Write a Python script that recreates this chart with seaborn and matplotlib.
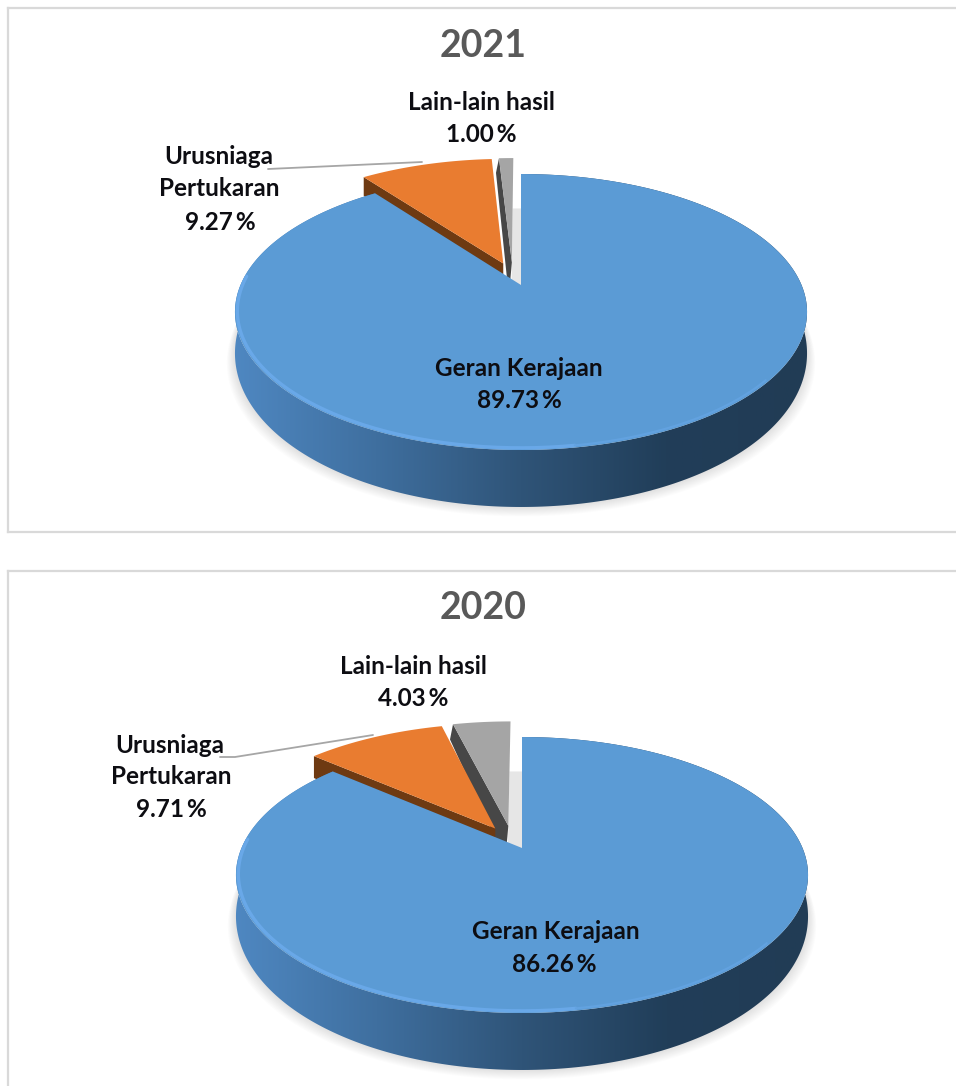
import numpy as np
import matplotlib
matplotlib.use("Agg")
import matplotlib.pyplot as plt
from matplotlib.colors import LinearSegmentedColormap
from matplotlib.patches import Polygon
import seaborn as sns

# ---- data ----
years = ["2021", "2020"]
categories = ["Geran Kerajaan", "Urusniaga\nPertukaran", "Lain-lain hasil"]
values_2021 = [89.73, 9.27, 1.00]
values_2020 = [86.26, 9.71, 4.03]

# ---- style ----
top_colors = ["#5b9bd5", "#e97c30", "#a5a5a5"]
wall_colors = [None, "#6e3a12", "#474747"]
wall_gradient = ["#4f88c2", "#3f6f9f", "#2f5478", "#213e59", "#213c55"]
FW, FH = 956, 1086
W_TXT = "#0d0d12"

sns.set_theme(style="white")
plt.rcParams["font.family"] = ["Lato", "DejaVu Sans"]

# perspective model of the disk (pixels)
B, A, C = 0.1957, 132.7, 280.5
EXPLODE = 0.18
ORANGE_SKEW = np.radians(-1)
GREY_SKEW = np.radians(-9)
GREY_WALL_LEAN = 3


def project(x, y):
    w = 1 + B * y
    return C * x / w, -A * y / w


def depth(y):
    return 37.5 - 19.5 * y


def sector(a0, a1, ox=0.0, oy=0.0):
    th = np.linspace(a0, a1, max(int(abs(a1 - a0) * 80), 4))
    return ox + np.sin(th), oy + np.cos(th)


def poly(ax, xs, ys, color, z, **kw):
    p = Polygon(np.column_stack([xs, ys]), closed=True, facecolor=color, edgecolor="none", zorder=z, **kw)
    ax.add_patch(p)
    return p


def draw_pie(ax, vals):
    fracs = np.array(vals) / 100 * 2 * np.pi
    b_end = fracs[0]
    o_start, o_end = b_end, b_end + fracs[1]
    g_start, g_end = o_end, 2 * np.pi

    # ground shadow
    x, y = sector(np.pi / 2 - 0.1, 3 * np.pi / 2 + 0.1)
    u, v = project(x, y)
    for k in range(1, 11):
        poly(ax, u * (1 + k / 350), v + depth(y) + k * 0.95, "#3a2a10", 1, alpha=0.011)

    # grey slice
    mid = (g_start + g_end) / 2 + GREY_SKEW
    ox, oy = EXPLODE * np.sin(mid), EXPLODE * np.cos(mid)
    # light shadow strip beside the grey slice
    sx = np.array([0, 0, ox, ox])
    sy = np.array([0, 0.65, 0.65, 0])
    su, sv = project(sx, sy)
    poly(ax, su, sv, "#e6e6e6", 2)
    x, y = sector(g_start, g_end, ox, oy)
    wx = np.array([ox, x[0], x[0], ox])
    wy = np.array([oy, y[0], y[0], oy])
    wu, wv = project(wx, wy)
    wv = wv + np.array([0, 0, depth(y[0]), depth(oy)])
    wu = wu - np.array([0, 0, GREY_WALL_LEAN, GREY_WALL_LEAN])
    poly(ax, wu, wv, wall_colors[2], 3)
    u, v = project(np.r_[ox, x], np.r_[oy, y])
    poly(ax, u, v, top_colors[2], 4)

    # orange slice
    mid = (o_start + o_end) / 2 + ORANGE_SKEW
    ox, oy = EXPLODE * np.sin(mid), EXPLODE * np.cos(mid)
    x, y = sector(o_start, o_end, ox, oy)
    wx = np.array([ox, x[0], x[0], ox])
    wy = np.array([oy, y[0], y[0], oy])
    wu, wv = project(wx, wy)
    wv = wv + np.array([0, 0, depth(y[0]), depth(oy)])
    poly(ax, wu, wv, wall_colors[1], 5)
    u, v = project(np.r_[ox, x], np.r_[oy, y])
    poly(ax, u, v, top_colors[1], 6)

    # blue slice: side wall with a horizontal gradient
    x, y = sector(0, b_end)
    u, v = project(x, y)
    dv = v + depth(y)
    clip = poly(ax, np.r_[u, u[::-1]], np.r_[v, dv[::-1]], "none", 7)
    cmap = LinearSegmentedColormap.from_list("side", wall_gradient)
    grad = np.linspace(0, 1, 256)[None, :]
    xl, yl = ax.get_xlim(), ax.get_ylim()
    im = ax.imshow(grad, cmap=cmap, extent=(-290, 290, 260, -150), aspect="auto", zorder=7)
    im.set_clip_path(clip)
    ax.set_xlim(xl)
    ax.set_ylim(yl)
    poly(ax, np.r_[0, u], np.r_[0, v], top_colors[0], 8)

    # bright rim along the front edge of the top face
    x, y = sector(np.pi * 0.95, np.pi * 1.52)
    u, v = project(x * 0.992, y * 0.992)
    ax.plot(u, v - 0.5, color="#69a8e8", lw=2.4, zorder=9, solid_capstyle="round")
    x, y = sector(np.pi * 0.72, np.pi * 0.95)
    u, v = project(x * 0.992, y * 0.992)
    ax.plot(u, v - 0.5, color="#62a2e0", lw=1.6, zorder=9, solid_capstyle="round")


def make_axes(top, bottom, cx, cy):
    ax = fig.add_axes([8 / FW, 1 - bottom / FH, (FW - 8) / FW, (bottom - top) / FH])
    ax.set_xlim(8 - cx, FW - cx)
    ax.set_ylim(bottom - cy, top - cy)
    ax.set_xticks([])
    ax.set_yticks([])
    for s in ax.spines.values():
        s.set_color("#d9d9d9")
        s.set_linewidth(1.6)
    ax.spines["right"].set_visible(False)
    ax.patch.set_alpha(0)
    return ax


def label(ax, cx, cy, px, py, s, size=17.5, color=W_TXT):
    ax.text(px - cx, py - cy, s, ha="center", va="center", fontsize=size,
            fontweight="bold", color=color, zorder=12, linespacing=1.0)


fig = plt.figure(figsize=(FW / 100, FH / 100), dpi=100, facecolor="white")

layouts = [
    dict(top=8, bottom=532, cx=521, cy=285, title=(483, 46),
         other=(481, 103, 481, 135), trade=(219, 157, 219, 189, 220, 223),
         gov=(519, 368, 519, 400), leader=([268, 422], [169, 162]), vals=values_2021),
    dict(top=571, bottom=1092, cx=522, cy=848, title=(483, 608),
         other=(413, 666, 413, 698), trade=(170, 745, 171, 776, 171, 809),
         gov=(556, 931, 554, 964), leader=([220, 235, 373], [757, 757, 735]), vals=values_2020),
]

for yr, L in zip(years, layouts):
    ax = make_axes(L["top"], L["bottom"], L["cx"], L["cy"])
    cx, cy = L["cx"], L["cy"]
    draw_pie(ax, L["vals"])
    vals = L["vals"]
    label(ax, cx, cy, *L["title"], yr, size=27, color="#595959")
    g = L["gov"]
    label(ax, cx, cy, g[0], g[1], categories[0])
    label(ax, cx, cy, g[2], g[3], f"{vals[0]:.2f}\u2009%")
    t = L["trade"]
    a, b = categories[1].split("\n")
    label(ax, cx, cy, t[0], t[1], a)
    label(ax, cx, cy, t[2], t[3], b)
    label(ax, cx, cy, t[4], t[5], f"{vals[1]:.2f}\u2009%")
    o = L["other"]
    label(ax, cx, cy, o[0], o[1], categories[2])
    label(ax, cx, cy, o[2], o[3], f"{vals[2]:.2f}\u2009%")
    lx, ly = L["leader"]
    ax.plot(np.array(lx) - cx, np.array(ly) - cy, color="#a6a6a6", lw=1.3, zorder=10)

fig.savefig("out.png", dpi=100, facecolor="white")
